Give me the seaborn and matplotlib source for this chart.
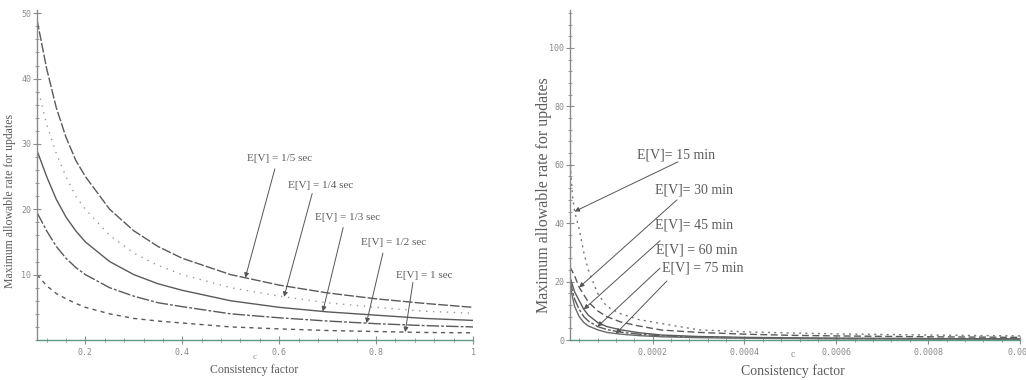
import numpy as np
import pandas as pd
import seaborn as sns
import matplotlib
matplotlib.use("Agg")
import matplotlib.pyplot as plt
from matplotlib.ticker import MultipleLocator

# ---------------- data ----------------
# Left panel: consistency factor c vs maximum allowable rate
c_left = [0.1, 0.12, 0.14, 0.16, 0.18, 0.2, 0.25, 0.3, 0.35, 0.4, 0.5, 0.6, 0.7, 0.8, 0.9, 1.0]
rate_1_5s = [49.0, 41.5, 35.5, 31.0, 27.5, 25.0, 20.0, 16.7, 14.3, 12.5, 10.0, 8.4, 7.2, 6.3, 5.6, 5.0]
rate_1_4s = [39.0, 33.0, 28.5, 25.0, 22.0, 20.0, 16.0, 13.3, 11.4, 10.0, 8.0, 6.7, 5.7, 5.0, 4.4, 4.1]
rate_1_3s = [29.0, 25.0, 21.5, 18.8, 16.7, 15.0, 12.0, 10.0, 8.6, 7.6, 6.0, 5.0, 4.3, 3.8, 3.3, 3.0]
rate_1_2s = [19.5, 16.7, 14.3, 12.5, 11.1, 10.0, 8.0, 6.7, 5.7, 5.1, 4.0, 3.4, 2.9, 2.5, 2.2, 2.0]
rate_1s = [10.0, 8.3, 7.1, 6.3, 5.6, 5.0, 4.0, 3.3, 2.9, 2.6, 2.0, 1.7, 1.45, 1.3, 1.15, 1.1]
left_labels = ["E[V] = 1/5 sec", "E[V] = 1/4 sec", "E[V] = 1/3 sec", "E[V] = 1/2 sec", "E[V] = 1 sec"]
left_tip_c = [0.53, 0.61, 0.69, 0.78, 0.86]
left_xticks = [0.2, 0.4, 0.6, 0.8, 1.0]
left_xticklabels = ["0.2", "0.4", "0.6", "0.8", "1"]
left_yticks = [10, 20, 30, 40, 50]
left_yticklabels = ["10", "20", "30", "40", "50"]

# Right panel
c_right = [0.00002, 0.000025, 0.00003, 0.00004, 0.00005, 0.00006, 0.00008, 0.0001, 0.00013,
           0.00017, 0.00022, 0.0003, 0.0004, 0.0005, 0.0006, 0.0008, 0.001]
rate_15m = [62, 50, 44, 38, 30, 24, 16, 11.5, 9, 7, 5.6, 3.5, 2.8, 2.4, 2.1, 1.7, 1.4]
rate_30m = [25, 23.5, 22, 18, 15.5, 13, 10, 8, 6.2, 4.8, 3.4, 2.6, 2.0, 1.6, 1.4, 1.1, 0.9]
rate_45m = [21.5, 19, 16.5, 13.5, 10.5, 8.5, 6, 4.6, 3.5, 2.5, 1.7, 1.2, 0.9, 0.75, 0.65, 0.5, 0.4]
rate_60m = [20.5, 17, 14, 10.5, 8, 6.5, 4.6, 3.6, 2.7, 2.0, 1.4, 1.0, 0.75, 0.6, 0.5, 0.4, 0.3]
rate_75m = [19.5, 15, 11.5, 8, 6, 4.8, 3.5, 2.6, 2.0, 1.5, 1.1, 0.8, 0.6, 0.5, 0.4, 0.3, 0.25]
right_labels = ["E[V]= 15 min", "E[V]= 30 min", "E[V]= 45 min", "E[V] = 60 min", "E[V] = 75 min"]
right_tip_c = [0.00003, 0.00004, 0.00005, 0.00008, 0.00012]
right_xticks = [0.0002, 0.0004, 0.0006, 0.0008, 0.001]
right_xticklabels = ["0.0002", "0.0004", "0.0006", "0.0008", "0.001"]
right_yticks = [0, 20, 40, 60, 80, 100]
right_yticklabels = ["0", "20", "40", "60", "80", "100"]

# ---------------- styling ----------------
sns.set_theme(style="white")
plt.rcParams['font.family'] = ['Liberation Serif', 'DejaVu Serif']

LINE = "#5a5a5a"
TXT = "#5c5c5c"
TICK = "#8a8a8a"

fig = plt.figure(figsize=(10.26, 3.8), dpi=100)
axL = fig.add_axes([37/1026, 40/380, 436/1026, 330/380])
axR = fig.add_axes([570/1026, 40/380, 450/1026, 330/380])


def draw(ax, c, series, styles):
    for vals, (ls, col, lw) in zip(series, styles):
        df = pd.DataFrame({"c": c, "rate": vals})
        sns.lineplot(data=df, x="c", y="rate", ax=ax, color=col, lw=lw,
                     linestyle=ls, legend=False, estimator=None)


left_series = [rate_1_5s, rate_1_4s, rate_1_3s, rate_1_2s, rate_1s]
left_styles = [((0, (7, 1.5)), LINE, 1.0),
               ((0, (1, 4)), "#9a9a9a", 1.0),
               ("-", LINE, 1.0),
               ((0, (9, 1.5, 2, 1.5)), LINE, 1.0),
               ((0, (3, 3)), LINE, 1.0)]
draw(axL, c_left, left_series, left_styles)

right_series = [rate_15m, rate_30m, rate_45m, rate_60m, rate_75m]
right_styles = [((0, (1.5, 3)), "#7a7a7a", 1.0),
                ((0, (5, 2.5)), LINE, 1.0),
                ("-", LINE, 1.0),
                ((0, (8, 1.5, 2, 1.5)), LINE, 1.0),
                ("-", "#6a6a6a", 1.0)]
draw(axR, c_right, right_series, right_styles)

# ---------------- axes ----------------
tick_font = dict(family="DejaVu Sans Mono", size=6, color=TICK)
for ax in (axL, axR):
    for s in ("top", "right"):
        ax.spines[s].set_visible(False)
    ax.spines["left"].set_color("#8c8c8c")
    ax.spines["bottom"].set_color("#5f9a86")
    ax.spines["left"].set_linewidth(1.0)
    ax.spines["bottom"].set_linewidth(1.0)
    ax.tick_params(which="both", bottom=True, left=True, top=False, right=False)
    ax.tick_params(which="major", direction="inout", length=6, width=0.8, color="#8c8c8c",
                   pad=1)
    ax.tick_params(which="minor", direction="inout", length=3.5, width=0.7, color="#999999")
    ax.set_xlabel("")
    ax.set_ylabel("")
    ax.grid(False)
    ax.set_facecolor("white")

axL.set_xlim(0.1, 1.0)
axL.set_ylim(0, 50.5)
axL.set_xticks(left_xticks)
axL.set_xticklabels(left_xticklabels, **tick_font)
axL.set_yticks(left_yticks)
axL.set_yticklabels(left_yticklabels, **tick_font)
axL.xaxis.set_minor_locator(MultipleLocator(0.04))
axL.yaxis.set_minor_locator(MultipleLocator(2))
axL.tick_params(axis="x", pad=3)

axR.set_xlim(0.00002, 0.001)
axR.set_ylim(0, 113)
axR.set_xticks(right_xticks)
axR.set_xticklabels(right_xticklabels, **tick_font)
axR.set_yticks(right_yticks)
axR.set_yticklabels(right_yticklabels, **tick_font)
axR.xaxis.set_minor_locator(MultipleLocator(0.00004))
axR.yaxis.set_minor_locator(MultipleLocator(4))
axR.tick_params(axis="x", pad=3)

# axis titles
axL.text(0.5, -0.052, "c", transform=axL.transAxes, ha="center", va="center",
         fontsize=6.5, color=TICK)
axL.text(0.497, -0.092, "Consistency factor", transform=axL.transAxes, ha="center",
         va="center", fontsize=8.5, color=TXT)
axL.text(-0.062, 0.42, "Maximum allowable rate for updates", transform=axL.transAxes,
         rotation=90, ha="center", va="center", fontsize=8.5, color=TXT)

axR.text(0.496, -0.045, "c", transform=axR.transAxes, ha="center", va="center",
         fontsize=7, color=TICK)
axR.text(0.496, -0.094, "Consistency factor", transform=axR.transAxes, ha="center",
         va="center", fontsize=10, color=TXT)
axR.text(-0.058, 0.44, "Maximum allowable rate for updates", transform=axR.transAxes,
         rotation=90, ha="center", va="center", fontsize=11.5, color=TXT)

# ---------------- annotations ----------------
arrow = dict(arrowstyle="-|>", color="#555555", lw=0.7, mutation_scale=7,
             shrinkA=0, shrinkB=0)

left_text_pos = [(0.60, 27.7), (0.686, 23.6), (0.742, 18.75), (0.835, 14.9), (0.90, 9.9)]
left_start = [(0.591, 26.2), (0.668, 22.4), (0.732, 17.2), (0.814, 13.3), (0.876, 8.8)]
for lab, tc, series, tp, st in zip(left_labels, left_tip_c, left_series, left_text_pos, left_start):
    ty = float(np.interp(tc, c_left, series))
    axL.text(tp[0], tp[1], lab, ha="center", va="center", fontsize=8, color=TXT)
    axL.annotate("", xy=(tc, ty), xytext=st, arrowprops=arrow)

right_text_pos = [(0.00025, 63.5), (0.00029, 51.5), (0.00029, 39.3), (0.000295, 30.9), (0.00031, 24.5)]
right_start = [(0.000255, 61), (0.000253, 48), (0.000216, 34), (0.000216, 24.6), (0.000231, 20.2)]
for lab, tc, series, tp, st in zip(right_labels, right_tip_c, right_series, right_text_pos, right_start):
    ty = float(np.interp(tc, c_right, series))
    axR.text(tp[0], tp[1], lab, ha="center", va="center", fontsize=10, color=TXT)
    axR.annotate("", xy=(tc, ty), xytext=st, arrowprops=arrow)

fig.savefig("out.png", dpi=100, facecolor="white")
